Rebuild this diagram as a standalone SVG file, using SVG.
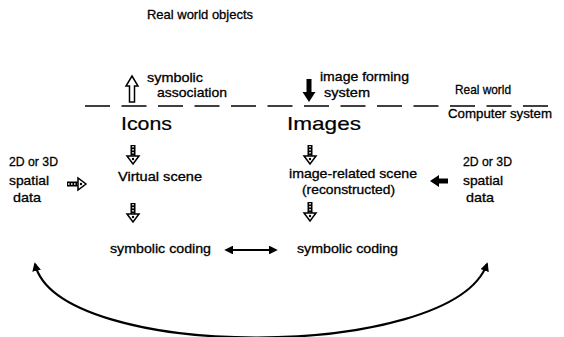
<svg xmlns="http://www.w3.org/2000/svg" width="564" height="337" viewBox="0 0 564 337">
<style>
text{font-family:"Liberation Sans",Arial,sans-serif;fill:#000;stroke:#000;stroke-width:0.3}
.s{font-size:13px}
.b{font-size:19px;stroke-width:0.2}
.conn{fill:none;stroke:#000;stroke-width:2.2}
.hol{fill:#fff;stroke:#000;stroke-width:1.5}
</style>
<defs>
<g id="dashdown">
<rect x="-2.5" y="0" width="5" height="11" fill="#000"/>
<line x1="0" y1="1" x2="0" y2="11" stroke="#fff" stroke-width="1.5" stroke-dasharray="1.5 1.5"/>
<path d="M-6 11 L6 11 L0 19 Z" class="hol"/>
<circle cx="0" cy="14" r="1.2" fill="#000"/>
</g>
<marker id="ah" viewBox="0 0 10 10" refX="8" refY="5" markerWidth="4" markerHeight="4" orient="auto-start-reverse">
<path d="M0 0 L10 5 L0 10 Z" fill="#000"/>
</marker>
</defs>

<g id="title"><text class="s" x="147" y="19" textLength="106" lengthAdjust="spacingAndGlyphs">Real world objects</text></g>

<g id="boundary">
<line x1="85" y1="106" x2="548" y2="106" stroke="#000" stroke-width="1.5" stroke-dasharray="25 11.5"/>
<text class="s" x="455" y="94" textLength="56" lengthAdjust="spacingAndGlyphs">Real world</text>
<text class="s" x="448" y="118" textLength="104" lengthAdjust="spacingAndGlyphs">Computer system</text>
</g>

<g id="symbolic-association">
<path d="M132 76 L138 86 L134.5 86 L134.5 102 L129.5 102 L129.5 86 L126 86 Z" class="hol"/>
<text class="s" x="147" y="82" textLength="56" lengthAdjust="spacingAndGlyphs">symbolic</text>
<text class="s" x="157" y="97" textLength="70" lengthAdjust="spacingAndGlyphs">association</text>
</g>

<g id="image-forming">
<path d="M306.5 79 L311.5 79 L311.5 92 L315.5 92 L309 102 L302.5 92 L306.5 92 Z" fill="#000"/>
<text class="s" x="320" y="81" textLength="89" lengthAdjust="spacingAndGlyphs">image forming</text>
<text class="s" x="324" y="97" textLength="46" lengthAdjust="spacingAndGlyphs">system</text>
</g>

<g id="icons"><text class="b" x="121" y="130" textLength="51" lengthAdjust="spacingAndGlyphs">Icons</text></g>
<g id="images"><text class="b" x="287" y="130" textLength="74" lengthAdjust="spacingAndGlyphs">Images</text></g>

<g id="virtual-scene"><text class="s" x="118" y="181" textLength="84" lengthAdjust="spacingAndGlyphs">Virtual scene</text></g>
<g id="image-related-scene">
<text class="s" x="289" y="178" textLength="128" lengthAdjust="spacingAndGlyphs">image-related scene</text>
<text class="s" x="302" y="194" textLength="93" lengthAdjust="spacingAndGlyphs">(reconstructed)</text>
</g>

<g id="data-left">
<text class="s" x="9" y="166" textLength="49" lengthAdjust="spacingAndGlyphs">2D or 3D</text>
<text class="s" x="9" y="185" textLength="40" lengthAdjust="spacingAndGlyphs">spatial</text>
<text class="s" x="13" y="202" textLength="28" lengthAdjust="spacingAndGlyphs">data</text>
</g>
<g id="data-right">
<text class="s" x="463" y="166" textLength="49" lengthAdjust="spacingAndGlyphs">2D or 3D</text>
<text class="s" x="463" y="185" textLength="40" lengthAdjust="spacingAndGlyphs">spatial</text>
<text class="s" x="466" y="202" textLength="28" lengthAdjust="spacingAndGlyphs">data</text>
</g>

<g id="coding-left"><text class="s" x="110" y="253" textLength="101" lengthAdjust="spacingAndGlyphs">symbolic coding</text></g>
<g id="coding-right"><text class="s" x="297" y="253" textLength="101" lengthAdjust="spacingAndGlyphs">symbolic coding</text></g>

<g id="connectors">
<use href="#dashdown" x="133" y="145"/>
<use href="#dashdown" x="133" y="203"/>
<use href="#dashdown" x="310" y="145"/>
<use href="#dashdown" x="310" y="202"/>
<g transform="translate(67 184) rotate(-90)"><use href="#dashdown"/></g>
<path d="M430 181 L439 175 L439 178.5 L448 178.5 L448 183.5 L439 183.5 L439 187 Z" fill="#000"/>
<line x1="226" y1="250" x2="276" y2="250" class="conn" marker-start="url(#ah)" marker-end="url(#ah)"/>
<path d="M35 264 C58 362, 452 362, 487 264" class="conn" marker-start="url(#ah)" marker-end="url(#ah)"/>
</g>
</svg>
